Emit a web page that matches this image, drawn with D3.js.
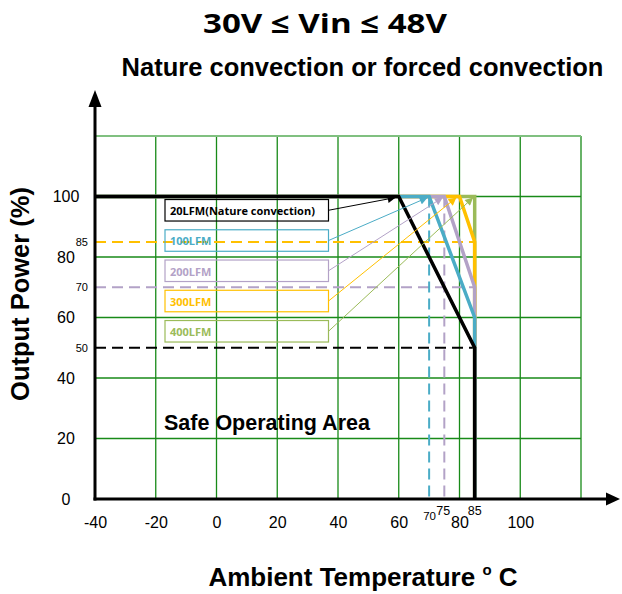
<!DOCTYPE html>
<html><head><meta charset="utf-8">
<script src="https://cdn.jsdelivr.net/npm/d3@7"></script>
<style>body{margin:0;background:#fff}svg{display:block}</style>
</head><body>
<svg id="c" width="622" height="594"></svg>
<script>
// ---- data ----
const seriesNames = ["20LFM(Nature convection)", "100LFM", "200LFM", "300LFM", "400LFM"];
const seriesColors = ["#000000", "#4bacc6", "#b3a2c7", "#ffc000", "#9bbb59"];
const kneeTemps = [60, 70, 75, 80, 85];       // °C where derating starts (100%)
const endTemp = 85;                            // °C end of derating
const endPowers = [50, 60, 70, 85, 100];       // % at 85 °C
const arrowTipTemps = [59, 69.5, 74.5, 79, 84.5];
const xTicks = [-40, -20, 0, 20, 40, 60, 80, 100];
const yTicks = [0, 20, 40, 60, 80, 100];
const gridX = [-40, -20, 0, 20, 40, 60, 80, 100, 120];
const gridY = [20, 40, 60, 80, 100, 120];
const refPowers = [85, 70, 50];
const refPowerColors = ["#ffc000", "#b3a2c7", "#000000"];
const refTemps = [70, 75];
const refTempColors = ["#4bacc6", "#b3a2c7"];
const smallXLabels = [70, 75, 85];

const FONT = "'Liberation Sans', Arial, sans-serif";
const svg = d3.select("#c");
const x = d3.scaleLinear().domain([-40, 120]).range([95, 581]);
const y = d3.scaleLinear().domain([0, 120]).range([499, 136]);

// grid
const g = svg.append("g");
g.selectAll("line.gx").data(gridX.slice(1)).join("line")
  .attr("x1", d => x(d)).attr("x2", d => x(d)).attr("y1", y(0)).attr("y2", y(120))
  .attr("stroke", "#188a18").attr("stroke-width", 1.3);
g.selectAll("line.gy").data(gridY).join("line")
  .attr("x1", x(-40)).attr("x2", x(120)).attr("y1", d => y(d)).attr("y2", d => y(d))
  .attr("stroke", d => d === 120 ? "#80c080" : "#188a18").attr("stroke-width", d => d === 120 ? 2 : 1.3);

// reference dashed lines
svg.selectAll("line.rp").data(refPowers).join("line")
  .attr("x1", x(-40)).attr("x2", x(endTemp)).attr("y1", d => y(d)).attr("y2", d => y(d))
  .attr("stroke", (d, i) => refPowerColors[i]).attr("stroke-width", 2)
  .attr("stroke-dasharray", "11,6");
svg.selectAll("line.rt").data(refTemps).join("line")
  .attr("x1", d => x(d)).attr("x2", d => x(d)).attr("y1", y(100)).attr("y2", y(0))
  .attr("stroke", (d, i) => refTempColors[i]).attr("stroke-width", 2)
  .attr("stroke-dasharray", "11,6");

// curves (drawn green first, black last)
const line = d3.line().x(d => x(d[0])).y(d => y(d[1]));
const idx = d3.range(seriesNames.length).reverse();
svg.selectAll("path.curve").data(idx).join("path")
  .attr("d", i => line([[-40, 100], [kneeTemps[i], 100], [endTemp, endPowers[i]], [endTemp, 0]]))
  .attr("fill", "none").attr("stroke", i => seriesColors[i])
  .attr("stroke-width", 3.5).attr("stroke-linejoin", "miter");

// axes
const defs = svg.append("defs");
seriesColors.forEach((c, i) => {
  defs.append("marker").attr("id", "ar" + i).attr("viewBox", "0 0 10 10").attr("refX", 10).attr("refY", 5)
    .attr("markerWidth", 9).attr("markerHeight", 8).attr("markerUnits", "userSpaceOnUse")
    .attr("orient", "auto").append("path").attr("d", "M0,0 L10,5 L0,10 z").attr("fill", c);
});
svg.append("line").attr("x1", x(-40) - 1.5).attr("x2", 610).attr("y1", y(0)).attr("y2", y(0))
  .attr("stroke", "#000").attr("stroke-width", 3);
svg.append("path").attr("d", `M620,${y(0)} l-14,-6.5 l0,13 z`).attr("fill", "#000");
svg.append("line").attr("x1", x(-40)).attr("x2", x(-40)).attr("y1", y(0) + 1.5).attr("y2", 104)
  .attr("stroke", "#000").attr("stroke-width", 3);
svg.append("path").attr("d", `M${x(-40)},90 l-6.5,17 l13,0 z`).attr("fill", "#000");

const xa = svg.append("g").attr("transform", `translate(0,${y(0)})`)
  .call(d3.axisBottom(x).tickValues(xTicks).tickSize(0).tickPadding(18).tickFormat(d => String(d)));
xa.select(".domain").remove();
xa.selectAll("text").attr("font-family", FONT).attr("font-size", 16).attr("fill", "#000");
const ya = svg.append("g").attr("transform", `translate(66,0)`)
  .call(d3.axisLeft(y).tickValues(yTicks).tickSize(0).tickPadding(0));
ya.select(".domain").remove();
ya.selectAll("text").attr("font-family", FONT).attr("font-size", 16).attr("fill", "#000")
  .attr("text-anchor", "middle").attr("x", 0);

// small labels
svg.selectAll("text.sy").data(refPowers).join("text")
  .attr("x", 88).attr("y", d => y(d) + 4).attr("text-anchor", "end")
  .attr("font-family", FONT).attr("font-size", 11).text(d => d);
const smallBase = [519.5, 514.5, 515];
const smallSize = [11.5, 12.5, 12.5];
const smallShift = [0.5, -1, 0];
svg.selectAll("text.sx").data(smallXLabels).join("text")
  .attr("x", (d, i) => x(d) + smallShift[i]).attr("y", (d, i) => smallBase[i]).attr("text-anchor", "middle")
  .attr("font-family", FONT).attr("font-size", (d, i) => smallSize[i]).text(d => d);

// legend boxes + arrows
const boxX0 = 165, boxX1 = 328.5;
const boxTop = i => y(99) + i * (y(0) - y(10));
seriesNames.forEach((n, i) => {
  const top = boxTop(i), h = 21.5;
  svg.append("rect").attr("x", boxX0).attr("y", top).attr("width", boxX1 - boxX0).attr("height", h)
    .attr("fill", "none").attr("stroke", seriesColors[i]).attr("stroke-width", 1.2);
  svg.append("text").attr("x", boxX0 + 5).attr("y", top + 15.5)
    .attr("font-family", "'Open Sans', Lato, sans-serif").attr("font-weight", "bold").attr("font-size", 11)
    .attr("fill", seriesColors[i]).text(n);
  svg.append("line").attr("x1", boxX1).attr("y1", top + h / 2)
    .attr("x2", x(arrowTipTemps[i])).attr("y2", y(100) + 1)
    .attr("stroke", seriesColors[i]).attr("stroke-width", 1)
    .attr("marker-end", `url(#ar${i})`);
});

// texts
svg.append("text").attr("x", 325).attr("y", 33).attr("text-anchor", "middle")
  .attr("font-family", "'Open Sans', Lato, sans-serif").attr("font-weight", "bold").attr("font-size", 27)
  .attr("textLength", 244).attr("lengthAdjust", "spacingAndGlyphs")
  .text("30V ≤ Vin ≤ 48V");
svg.append("text").attr("x", 362.5).attr("y", 76).attr("text-anchor", "middle")
  .attr("font-family", FONT).attr("font-weight", "bold").attr("font-size", 25.5)
  .text("Nature convection or forced convection");
svg.append("text").attr("x", 164).attr("y", 430)
  .attr("font-family", FONT).attr("font-weight", "bold").attr("font-size", 21.5)
  .text("Safe Operating Area");
const xt = svg.append("text").attr("x", 363).attr("y", 586).attr("text-anchor", "middle")
  .attr("font-family", FONT).attr("font-weight", "bold").attr("font-size", 26);
xt.append("tspan").text("Ambient Temperature ");
xt.append("tspan").attr("font-size", 15).attr("dy", -11).text("o");
xt.append("tspan").attr("dy", 11).text(" C");
svg.append("text").attr("transform", `translate(29,294) rotate(-90)`).attr("text-anchor", "middle")
  .attr("font-family", FONT).attr("font-weight", "bold").attr("font-size", 25.5)
  .text("Output Power (%)");
</script>
</body></html>
